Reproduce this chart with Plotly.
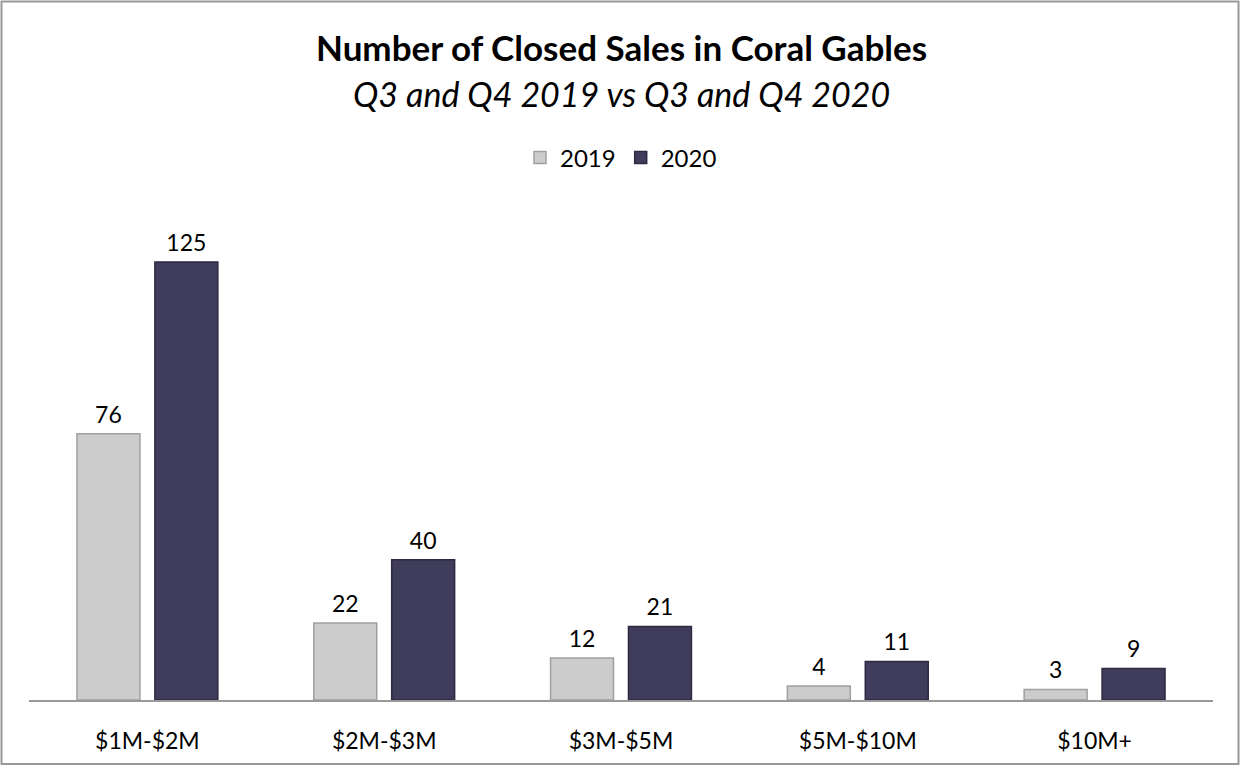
import plotly.graph_objects as go

categories = ["$1M-$2M", "$2M-$3M", "$3M-$5M", "$5M-$10M", "$10M+"]
sales_2019 = [76, 22, 12, 4, 3]
sales_2020 = [125, 40, 21, 11, 9]
series_names = ["2019", "2020"]

title_text = "Number of Closed Sales in Coral Gables"
subtitle_text = "Q3 and Q4 2019 vs Q3 and Q4 2020"

W, H = 1240, 766
ML, MR, MT, MB = 29, 27, 209, 66
PW, PH = W - ML - MR, H - MT - MB

FONT = "Lato"
colors = ["#CCCCCC", "#403C5C"]
edge_colors = ["#A0A0A0", "#2C2940"]

fig = go.Figure()
for name, vals, col, ecol in zip(series_names, [sales_2019, sales_2020], colors, edge_colors):
    fig.add_trace(go.Bar(
        x=categories, y=vals, name=name, offsetgroup=name,
        marker=dict(color=col, line=dict(color=ecol, width=1.5)),
    ))
for name, vals in zip(series_names, [sales_2019, sales_2020]):
    fig.add_trace(go.Scatter(
        x=categories, y=vals, name=name + " labels", offsetgroup=name,
        mode="markers+text", text=[str(v) for v in vals],
        textposition="top center",
        marker=dict(size=7, opacity=0),
        textfont=dict(family=FONT, size=23, color="#000000"),
        showlegend=False, hoverinfo="skip", cliponaxis=False,
    ))

fig.update_layout(
    width=W, height=H,
    margin=dict(l=ML, r=MR, t=MT, b=MB, pad=0),
    paper_bgcolor="white", plot_bgcolor="white",
    barmode="group", bargap=0.342, bargroupgap=0.192,
    scattermode="group", scattergap=0.342,
    font=dict(family=FONT, color="#000000"),
    showlegend=True,
    legend=dict(orientation="h", x=0.5, xanchor="center",
                y=(H - MB - 158) / PH, yanchor="middle",
                font=dict(family=FONT, size=24, color="#000000"),
                itemwidth=30, traceorder="normal"),
    xaxis=dict(showline=True, linecolor="#999999", linewidth=1.5,
               ticks="", showgrid=False, zeroline=False,
               tickfont=dict(family=FONT, size=23, color="#000000")),
    yaxis=dict(range=[0, PH / 3.504], visible=False, showgrid=False,
               zeroline=False),
    annotations=[
        dict(text="<b>" + title_text + "</b>", xref="paper", yref="paper",
             x=0.5, y=(H - MB - 47) / PH, xanchor="center", yanchor="middle",
             showarrow=False, font=dict(family=FONT, size=35, color="#000000")),
        dict(text="<i>" + subtitle_text + "</i>", xref="paper", yref="paper",
             x=0.5, y=(H - MB - 93) / PH, xanchor="center", yanchor="middle",
             showarrow=False, font=dict(family=FONT, size=34, color="#000000")),
    ],
    shapes=[
        dict(type="rect", xref="paper", yref="paper",
             x0=(1.5 - ML) / PW, x1=(W - 1.5 - ML) / PW,
             y0=(H - MB - (H - 2)) / PH, y1=(H - MB - 1.5) / PH,
             line=dict(color="#999999", width=2), fillcolor="rgba(0,0,0,0)",
             layer="below"),
    ],
)
fig.update_xaxes(ticklabelstandoff=20)

fig.write_html("out.html", config={"displayModeBar": False},
               post_script="document.body.style.margin='0';")
